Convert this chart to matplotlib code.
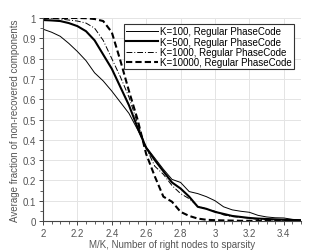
import numpy as np
import matplotlib
matplotlib.use('Agg')
import matplotlib.pyplot as plt
from matplotlib.ticker import MultipleLocator

plt.rcParams['font.family'] = ['Liberation Sans', 'DejaVu Sans']

# M/K grid
ratio = [2.00, 2.05, 2.10, 2.15, 2.20, 2.25, 2.30, 2.35, 2.40, 2.45, 2.50,
         2.55, 2.60, 2.65, 2.70, 2.75, 2.80, 2.85, 2.90, 2.95, 3.00,
         3.05, 3.10, 3.15, 3.20, 3.25, 3.30, 3.35, 3.40, 3.45, 3.50]

k100 = [0.945, 0.93, 0.91, 0.875, 0.835, 0.79, 0.73, 0.69, 0.64, 0.585, 0.53,
        0.45, 0.365, 0.31, 0.255, 0.205, 0.19, 0.145, 0.135, 0.12, 0.10,
        0.07, 0.055, 0.048, 0.043, 0.028, 0.02, 0.016, 0.015, 0.008, 0.005]
k500 = [0.99, 0.988, 0.985, 0.975, 0.96, 0.935, 0.89, 0.82, 0.75, 0.66, 0.57,
        0.46, 0.36, 0.30, 0.245, 0.19, 0.16, 0.12, 0.07, 0.06, 0.045,
        0.035, 0.025, 0.02, 0.015, 0.012, 0.01, 0.008, 0.006, 0.005, 0.004]
k1000 = [1.0, 0.998, 0.995, 0.99, 0.985, 0.975, 0.95, 0.89, 0.80, 0.71, 0.61,
         0.48, 0.36, 0.27, 0.23, 0.175, 0.135, 0.11, 0.073, 0.06, 0.048,
         0.03, 0.022, 0.018, 0.014, 0.008, 0.005, 0.004, 0.003, 0.002, 0.002]
k10000 = [1.0, 1.0, 1.0, 1.0, 1.0, 0.999, 0.995, 0.985, 0.93, 0.79, 0.64,
          0.50, 0.33, 0.22, 0.12, 0.095, 0.045, 0.025, 0.012, 0.006, 0.004,
          0.003, 0.002, 0.001, 0.001, 0.0, 0.0, 0.0, 0.0, 0.0, 0.0]

labels = ['K=100, Regular PhaseCode', 'K=500, Regular PhaseCode',
          'K=1000, Regular PhaseCode', 'K=10000, Regular PhaseCode']
xticks = [2.0, 2.2, 2.4, 2.6, 2.8, 3.0, 3.2, 3.4]
xticklabels = ['2', '2.2', '2.4', '2.6', '2.8', '3', '3.2', '3.4']
yticks = [0.0, 0.1, 0.2, 0.3, 0.4, 0.5, 0.6, 0.7, 0.8, 0.9, 1.0]
yticklabels = ['0', '0.1', '0.2', '0.3', '0.4', '0.5', '0.6', '0.7', '0.8', '0.9', '1']

fig = plt.figure(figsize=(3.32, 2.51), dpi=100)
ax = fig.add_axes([0.1295, 0.1155, 0.777, 0.8088])

ax.plot(ratio, k100, color='k', lw=0.7, ls='-', label=labels[0])
ax.plot(ratio, k500, color='k', lw=1.5, ls='-', label=labels[1])
ax.plot(ratio, k1000, color='k', lw=0.7, ls=(0, (6, 2, 1, 2)), label=labels[2])
ax.plot(ratio, k10000, color='k', lw=1.5, ls=(0, (3, 1.5)), label=labels[3])

ax.set_xlim(2, 3.5)
ax.set_ylim(0, 1)
ax.set_xticks(xticks)
ax.set_xticklabels(xticklabels)
ax.set_yticks(yticks)
ax.set_yticklabels(yticklabels)
ax.xaxis.set_minor_locator(MultipleLocator(0.05))
ax.yaxis.set_minor_locator(MultipleLocator(0.05))
ax.grid(True, which='major', color='#e4e4e4', lw=0.7)
ax.set_axisbelow(True)

for s in ['top', 'right']:
    ax.spines[s].set_visible(False)
for s in ['left', 'bottom']:
    ax.spines[s].set_color('#444444')
    ax.spines[s].set_linewidth(0.8)
ax.tick_params(which='both', direction='out', colors='#444444', labelsize=7,
               labelcolor='#555555', pad=2)
ax.tick_params(which='major', length=3, width=0.7)
ax.tick_params(which='minor', length=2, width=0.6)

ax.set_xlabel('M/K, Number of right nodes to sparsity', fontsize=7,
              color='#555555', labelpad=1)
ax.set_ylabel('Average fraction of non-recovered components', fontsize=7,
              color='#555555', labelpad=2)

leg = ax.legend(loc='upper right', bbox_to_anchor=(0.973, 0.97), borderaxespad=0,
                fontsize=7, fancybox=False, framealpha=1, edgecolor='#333333',
                labelspacing=0.05, handlelength=3.3, handletextpad=0.2,
                borderpad=0.2)
leg.get_frame().set_linewidth(0.8)

fig.savefig('out.png', dpi=100)
